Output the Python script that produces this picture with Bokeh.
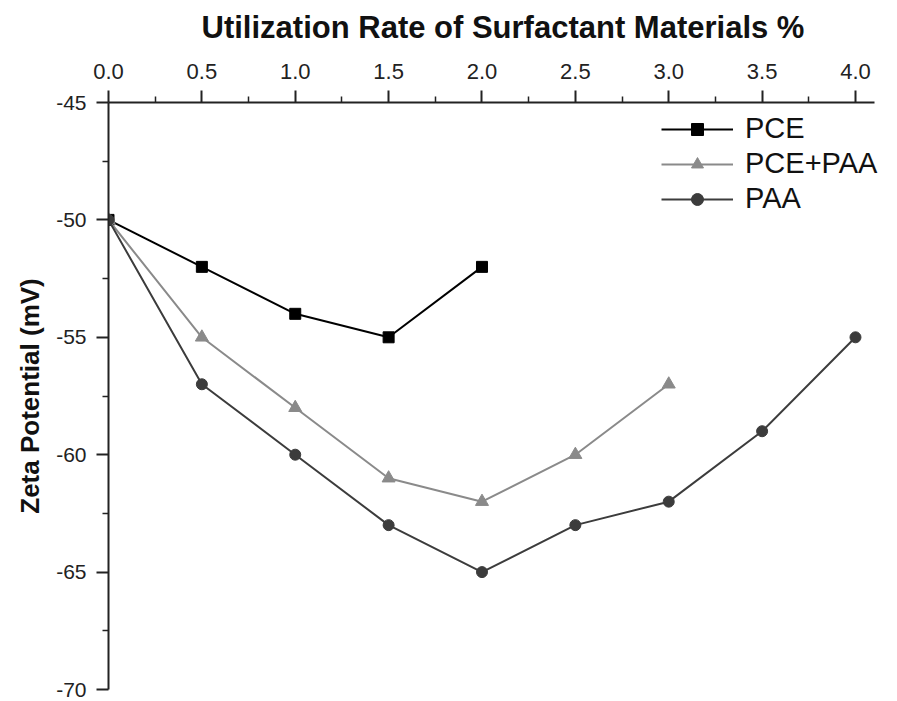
from bokeh.plotting import figure
from bokeh.models import LinearAxis, Range1d, Legend, LegendItem, FixedTicker
from bokeh.embed import file_html
from bokeh.resources import INLINE

x_ticks = [0.0, 0.5, 1.0, 1.5, 2.0, 2.5, 3.0, 3.5, 4.0]
y_ticks = [-45, -50, -55, -60, -65, -70]

pce_x = [0.0, 0.5, 1.0, 1.5, 2.0]
pce_y = [-50, -52, -54, -55, -52]
pcepaa_x = [0.0, 0.5, 1.0, 1.5, 2.0, 2.5, 3.0]
pcepaa_y = [-50, -55, -58, -61, -62, -60, -57]
paa_x = [0.0, 0.5, 1.0, 1.5, 2.0, 2.5, 3.0, 3.5, 4.0]
paa_y = [-50, -57, -60, -63, -65, -63, -62, -59, -55]

FONT = "Liberation Sans"

p = figure(width=897, height=701, output_backend="svg", toolbar_location=None,
           x_range=Range1d(0, 4.225), y_range=Range1d(-70, -45),
           x_axis_location=None, y_axis_location=None,
           min_border_left=108, min_border_right=0, min_border_top=102, min_border_bottom=12)
p.outline_line_color = None
p.xgrid.visible = False
p.ygrid.visible = False
p.background_fill_color = "white"
p.border_fill_color = "white"

xa = LinearAxis(axis_label="Utilization Rate of Surfactant Materials %", bounds=(0, 4.1))
xa.ticker = FixedTicker(ticks=x_ticks, minor_ticks=[0.25 + 0.5 * i for i in range(8)])
xa.major_label_overrides = {t: f"{t:.1f}" for t in x_ticks}
ya = LinearAxis(axis_label="Zeta Potential (mV)")
ya.ticker = FixedTicker(ticks=y_ticks, minor_ticks=[-47.5, -52.5, -57.5, -62.5, -67.5])
ya.major_label_overrides = {t: f"{t:d}" for t in y_ticks}

for ax in (xa, ya):
    ax.axis_line_width = 2
    ax.axis_line_color = "#222222"
    ax.major_tick_line_color = "#222222"
    ax.minor_tick_line_color = "#222222"
    ax.major_tick_line_width = 2
    ax.minor_tick_line_width = 1.5
    ax.major_tick_out = 12
    ax.major_tick_in = 0
    ax.minor_tick_out = 6
    ax.minor_tick_in = 0
    ax.major_label_text_font = FONT
    ax.major_label_text_color = "#222222"
    ax.axis_label_text_font = FONT
    ax.axis_label_text_font_style = "bold"
    ax.axis_label_text_color = "#111111"

xa.major_label_text_font_size = "22px"
xa.axis_label_text_font_size = "31px"
xa.major_label_standoff = 12
xa.axis_label_standoff = 16
ya.major_label_text_font_size = "21px"
ya.axis_label_text_font_size = "26px"
ya.major_label_standoff = 10
ya.axis_label_standoff = 8

p.add_layout(xa, "above")
p.add_layout(ya, "left")

r1l = p.line(pce_x, pce_y, line_color="#000000", line_width=2)
r1m = p.scatter(pce_x, pce_y, marker="square", size=11, fill_color="#000000", line_color="#000000")
r2l = p.line(pcepaa_x, pcepaa_y, line_color="#8a8a8a", line_width=2)
r2m = p.scatter(pcepaa_x, pcepaa_y, marker="triangle", size=13, fill_color="#8a8a8a", line_color="#8a8a8a")
r3l = p.line(paa_x, paa_y, line_color="#3c3c3c", line_width=2)
r3m = p.scatter(paa_x, paa_y, marker="circle", size=11, fill_color="#3c3c3c", line_color="#3c3c3c")

legend = Legend(items=[
    LegendItem(label="PCE", renderers=[r1l, r1m]),
    LegendItem(label="PCE+PAA", renderers=[r2l, r2m]),
    LegendItem(label="PAA", renderers=[r3l, r3m]),
], location=(553, 474))
legend.border_line_color = None
legend.background_fill_alpha = 0
legend.label_text_font = FONT
legend.label_text_font_size = "29px"
legend.label_text_color = "#111111"
legend.glyph_width = 72
legend.glyph_height = 30
legend.label_height = 30
legend.spacing = 2
legend.padding = 0
legend.margin = 0
legend.label_standoff = 12
p.add_layout(legend, "center")

open("out.html", "w").write(file_html(p, INLINE))
